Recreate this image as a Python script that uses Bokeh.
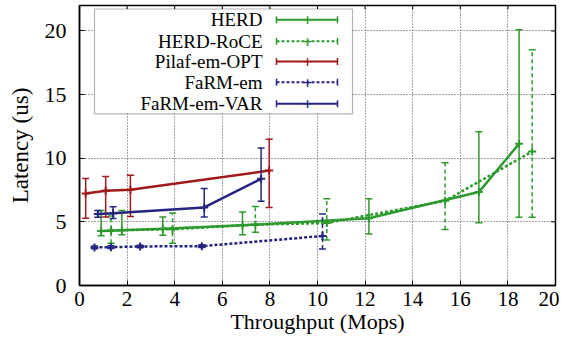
from bokeh.plotting import figure
from bokeh.models import (Range1d, FixedTicker, Label, BoxAnnotation,
                          Arrow, TeeHead, ColumnDataSource)
from bokeh.embed import file_html
from bokeh.resources import INLINE

# ---- data ----
herd_x = [0.91, 1.78, 3.5, 6.85, 12.16, 16.78, 18.47]
herd_y = [4.29, 4.35, 4.45, 4.73, 5.29, 7.34, 11.14]
herd_lo = [3.91, 3.99, 3.94, 3.99, 4.04, 4.93, 5.37]
herd_hi = [5.9, 5.9, 5.39, 5.78, 6.82, 12.09, 20.09]

roce_x = [1.33, 3.91, 7.39, 10.39, 15.36, 19.02]
roce_y = [4.33, 4.42, 4.78, 4.91, 6.65, 10.53]
roce_lo = [3.32, 3.32, 4.19, 3.58, 4.4, 5.37]
roce_hi = [5.47, 5.7, 6.21, 6.82, 9.64, 18.53]

pilaf_x = [0.26, 1.1, 2.14, 7.97]
pilaf_y = [7.23, 7.44, 7.52, 9.03]
pilaf_lo = [5.29, 5.39, 5.42, 6.13]
pilaf_hi = [8.41, 8.56, 8.67, 11.5]

farm_x = [0.63, 1.32, 2.55, 5.14, 10.21]
farm_y = [2.99, 3.01, 3.07, 3.09, 3.89]
farm_lo = [2.88, 2.9, 2.97, 2.98, 2.86]
farm_hi = [3.1, 3.12, 3.17, 3.2, 5.62]

var_x = [0.77, 1.41, 5.24, 7.63]
var_y = [5.62, 5.67, 6.13, 8.38]
var_lo = [5.37, 5.27, 5.39, 6.62]
var_hi = [5.9, 6.19, 7.62, 10.81]

x_ticks = [0, 2, 4, 6, 8, 10, 12, 14, 16, 18, 20]
y_ticks = [0, 5, 10, 15, 20]

GREEN = "#2e9a2e"
RED = "#a11a1a"
BLUE = "#25257f"
FONT = "Liberation Serif"

X_MAX = 20
Y_MAX = 22.0

series = [
    ("HERD", herd_x, herd_y, herd_lo, herd_hi, GREEN, "solid"),
    ("HERD-RoCE", roce_x, roce_y, roce_lo, roce_hi, GREEN, "4 3"),
    ("Pilaf-em-OPT", pilaf_x, pilaf_y, pilaf_lo, pilaf_hi, RED, "solid"),
    ("FaRM-em", farm_x, farm_y, farm_lo, farm_hi, BLUE, "4 3"),
    ("FaRM-em-VAR", var_x, var_y, var_lo, var_hi, BLUE, "solid"),
]

W, H = 559, 336
BL, BR, BT, BB = 79, 4, 5, 49
p = figure(width=W, height=H, output_backend="svg", toolbar_location=None,
           x_range=Range1d(0, X_MAX), y_range=Range1d(0, Y_MAX),
           min_border_left=BL, min_border_right=BR, min_border_top=BT,
           min_border_bottom=BB)
p.background_fill_color = "white"
p.border_fill_color = "white"
p.outline_line_color = "black"
p.outline_line_width = 1.5

for ax, ticks in ((p.xaxis[0], x_ticks), (p.yaxis[0], y_ticks)):
    ax.ticker = FixedTicker(ticks=ticks)
    ax.major_tick_in = 5
    ax.major_tick_out = 0
    ax.minor_tick_line_color = None
    ax.axis_line_color = "black"
    ax.axis_line_width = 1.5
    ax.major_label_text_font = FONT
    ax.major_label_text_color = "black"
    ax.axis_label_text_font = FONT
    ax.axis_label_text_font_style = "normal"
    ax.axis_label_text_color = "black"

p.xaxis.axis_label = "Throughput (Mops)"
p.yaxis.axis_label = "Latency (us)"
p.xaxis.major_label_text_font_size = "21px"
p.xaxis.axis_label_text_font_size = "22px"
p.yaxis.major_label_text_font_size = "22px"
p.yaxis.axis_label_text_font_size = "23px"
p.xaxis.major_label_standoff = 6
p.xaxis.axis_label_standoff = 0
p.yaxis.major_label_standoff = 13
p.yaxis.axis_label_standoff = 9

for g in (p.xgrid[0], p.ygrid[0]):
    g.grid_line_color = "#444444"
    g.grid_line_dash = "1 2"
    g.grid_line_width = 1

# mirrored inner ticks on top and right edges
p.segment(x0=x_ticks, y0=[Y_MAX] * len(x_ticks), x1=x_ticks,
          y1=[Y_MAX - 0.3] * len(x_ticks), line_color="black", line_width=1)
p.segment(x0=[X_MAX] * len(y_ticks), y0=y_ticks, x1=[X_MAX - 0.18] * len(y_ticks),
          y1=y_ticks, line_color="black", line_width=1)

for name, xs, ys, lo, hi, col, dash in series:
    src = ColumnDataSource(dict(x=xs, y=ys, lo=lo, hi=hi))
    p.segment(x0="x", y0="lo", x1="x", y1="hi", source=src, line_color=col,
              line_width=1.5, line_dash=dash)
    p.scatter(x="x", y="lo", source=src, marker="dash", size=7, line_color=col, line_width=1.5)
    p.scatter(x="x", y="hi", source=src, marker="dash", size=7, line_color=col, line_width=1.5)
    p.line(x="x", y="y", source=src, line_color=col, line_width=2.5,
           line_dash=("solid" if dash == "solid" else "3 2"))
    p.scatter(x="x", y="y", source=src, marker="cross", size=8, line_color=col, line_width=2)

# ---- manual legend (labels left, samples right); screen units are frame-relative ----
FRAME_LEFT = 80     # picture x of frame left
FRAME_BOTTOM = 285  # picture y of frame bottom

def sx(xp):
    return xp - FRAME_LEFT

def sy(yp):
    return FRAME_BOTTOM - yp

box = BoxAnnotation(left=sx(95), right=sx(353), top=sy(8.5), bottom=sy(113.3),
                    left_units="screen", right_units="screen",
                    top_units="screen", bottom_units="screen",
                    fill_color="white", fill_alpha=1.0, line_color="black", line_width=1.2)
p.add_layout(box)

rows = [19.3, 40.7, 61.0, 81.7, 103.3]
for (name, xs, ys, lo, hi, col, dash), yr in zip(series, rows):
    p.add_layout(Label(x=sx(263), y=sy(yr), x_units="screen", y_units="screen",
                       text=name, text_align="right", text_baseline="middle",
                       text_font=FONT, text_font_size="19px", text_color="black"))
    p.add_layout(Arrow(x_start=sx(277), y_start=sy(yr), x_end=sx(338), y_end=sy(yr),
                       start_units="screen", end_units="screen",
                       line_color=col, line_width=2, line_dash=("solid" if dash == "solid" else "3 2"),
                       start=TeeHead(size=7, line_color=col, line_width=1.5),
                       end=TeeHead(size=7, line_color=col, line_width=1.5)))
    p.add_layout(Label(x=sx(308), y=sy(yr), x_units="screen", y_units="screen",
                       text="+", text_align="center", text_baseline="middle",
                       text_font="DejaVu Sans", text_font_size="12px", text_color=col,
                       text_font_style="bold"))

open("out.html", "w").write(file_html(p, INLINE))
